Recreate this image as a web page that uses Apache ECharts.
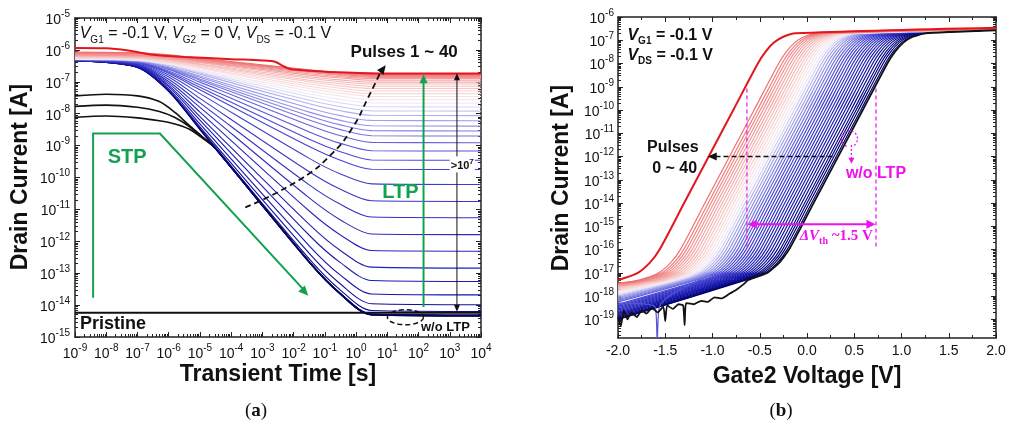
<!DOCTYPE html>
<html>
<head>
<meta charset="utf-8">
<script src="https://cdn.jsdelivr.net/npm/echarts@6/dist/echarts.min.js"></script>
<style>
html,body{margin:0;padding:0;background:#fff;}
#chart{width:1010px;height:429px;}
</style>
</head>
<body>
<div id="chart"></div>
<script>
// ---------- (a) transient drain current after pulses 1 ~ 40 ----------
// log10(time [s]) nodes shared by pulses 1..39
const decayTimes = [-9, -7, -6, -5, -1.5, -0.5, 0.5, 4];
// log10(current [A]) for pulses 1 (bottom) .. 39
const pulseDecay = [
  [-6.34,-6.55,-7.30,-8.50,-12.65,-13.65,-14.30,-14.33],
  [-6.34,-6.55,-7.30,-8.49,-12.64,-13.63,-14.28,-14.31],
  [-6.34,-6.54,-7.28,-8.46,-12.55,-13.53,-14.17,-14.20],
  [-6.34,-6.54,-7.26,-8.41,-12.38,-13.34,-13.96,-13.99],
  [-6.34,-6.53,-7.22,-8.32,-12.14,-13.06,-13.65,-13.68],
  [-6.33,-6.51,-7.16,-8.20,-11.81,-12.67,-13.23,-13.26],
  [-6.33,-6.50,-7.11,-8.09,-11.47,-12.29,-12.81,-12.84],
  [-6.33,-6.49,-7.05,-7.95,-11.05,-11.80,-12.29,-12.31],
  [-6.33,-6.47,-6.99,-7.80,-10.64,-11.33,-11.77,-11.79],
  [-6.33,-6.46,-6.92,-7.66,-10.23,-10.84,-11.24,-11.26],
  [-6.32,-6.44,-6.85,-7.52,-9.82,-10.37,-10.73,-10.75],
  [-6.32,-6.42,-6.79,-7.37,-9.40,-9.89,-10.20,-10.22],
  [-6.32,-6.41,-6.73,-7.25,-9.03,-9.46,-9.74,-9.75],
  [-6.32,-6.40,-6.70,-7.17,-8.80,-9.19,-9.45,-9.46],
  [-6.32,-6.39,-6.66,-7.09,-8.57,-8.93,-9.16,-9.17],
  [-6.30,-6.37,-6.61,-7.01,-8.36,-8.69,-8.90,-8.91],
  [-6.30,-6.36,-6.59,-6.95,-8.20,-8.50,-8.69,-8.70],
  [-6.30,-6.36,-6.57,-6.91,-8.07,-8.35,-8.53,-8.54],
  [-6.30,-6.35,-6.55,-6.86,-7.95,-8.21,-8.38,-8.39],
  [-6.30,-6.35,-6.53,-6.82,-7.82,-8.06,-8.21,-8.22],
  [-6.28,-6.33,-6.49,-6.76,-7.69,-7.91,-8.05,-8.06],
  [-6.28,-6.32,-6.48,-6.72,-7.58,-7.78,-7.91,-7.92],
  [-6.28,-6.32,-6.46,-6.69,-7.47,-7.66,-7.78,-7.79],
  [-6.28,-6.32,-6.45,-6.66,-7.38,-7.55,-7.66,-7.67],
  [-6.28,-6.31,-6.43,-6.63,-7.29,-7.45,-7.56,-7.56],
  [-6.26,-6.29,-6.40,-6.58,-7.21,-7.36,-7.46,-7.46],
  [-6.25,-6.28,-6.38,-6.55,-7.14,-7.28,-7.37,-7.37],
  [-6.24,-6.27,-6.37,-6.52,-7.07,-7.20,-7.29,-7.29],
  [-6.22,-6.25,-6.34,-6.49,-7.00,-7.13,-7.21,-7.21],
  [-6.21,-6.23,-6.32,-6.46,-6.95,-7.06,-7.14,-7.14],
  [-6.20,-6.22,-6.30,-6.44,-6.89,-7.00,-7.07,-7.07],
  [-6.18,-6.20,-6.28,-6.40,-6.84,-6.94,-7.01,-7.01],
  [-6.17,-6.19,-6.26,-6.38,-6.79,-6.88,-6.95,-6.95],
  [-6.16,-6.18,-6.25,-6.36,-6.75,-6.84,-6.90,-6.90],
  [-6.15,-6.17,-6.24,-6.34,-6.71,-6.80,-6.86,-6.86],
  [-6.13,-6.15,-6.21,-6.32,-6.68,-6.77,-6.83,-6.83],
  [-6.11,-6.13,-6.19,-6.30,-6.66,-6.74,-6.80,-6.80],
  [-6.09,-6.11,-6.17,-6.28,-6.64,-6.72,-6.78,-6.78],
  [-6.07,-6.09,-6.15,-6.26,-6.62,-6.71,-6.77,-6.77]
];
// pulse 40 (red)
const pulse40Time    = [-9, -8, -7.3, -6.5, -5.5, -4, -3, -2.6, -2.35, -2.1, -1.5, -0.3, 1, 4];
const pulse40Current = [-5.94, -5.95, -6.02, -6.15, -6.22, -6.29, -6.33, -6.37, -6.50, -6.60, -6.65, -6.71, -6.74, -6.74];
// short-term (w/o LTP) decays, black
const stpTime = [-9, -8, -7, -6.3, -5.8, -5.35, -4.9, -4.5, -1.5, -0.5, 0.5, 4];
const stpCurrent = [
  [-7.44, -7.39, -7.44, -7.62, -7.96, -8.36, -8.74, -9.09, -12.65, -13.65, -14.30, -14.33],
  [-7.77, -7.73, -7.80, -7.93, -8.12, -8.40, -8.76, -9.09, -12.65, -13.65, -14.30, -14.33],
  [-8.11, -8.07, -8.13, -8.22, -8.32, -8.48, -8.78, -9.09, -12.65, -13.65, -14.30, -14.33]
];
// pristine level
const pristineTime = [-9, 4];
const pristineCurrent = [-14.24, -14.24];

// ---------- (b) transfer curves after pulses 0 ~ 40 ----------
// gate-2 voltage where each curve crosses 1e-12 A (pulse 0 = black ... pulse 40 = red)
const vAt1pA = [0.33, 0.31, 0.285, 0.26, 0.235, 0.205, 0.175, 0.145, 0.115, 0.085, 0.055,
  0.025, -0.005, -0.035, -0.065, -0.095, -0.125, -0.155, -0.185, -0.215, -0.245,
  -0.275, -0.305, -0.335, -0.365, -0.395, -0.425, -0.455, -0.485, -0.515, -0.545,
  -0.575, -0.605, -0.635, -0.665, -0.695, -0.725, -0.755, -0.785, -0.82, -1.04];
// log10 current at Vg2 = -2.0 V
const floorAtMinus2 = [-18.9, -19.0, -19.0, -18.95, -18.95, -18.9, -18.85, -18.8, -18.8, -18.75, -18.7,
  -18.65, -18.6, -18.55, -18.5, -18.45, -18.4, -18.35, -18.3, -18.25, -18.2,
  -18.15, -18.1, -18.05, -18.0, -17.95, -17.9, -17.85, -17.8, -17.75, -17.7,
  -17.65, -17.6, -17.6, -17.55, -17.55, -17.5, -17.5, -17.45, -17.45, -17.32];
// log10 current at Vg2 = 2.0 V
const currentAt2V = [-6.57, -6.57, -6.57, -6.57, -6.57, -6.57, -6.57, -6.57, -6.57, -6.57, -6.57,
  -6.57, -6.57, -6.57, -6.56, -6.56, -6.56, -6.56, -6.56, -6.56, -6.55,
  -6.55, -6.55, -6.55, -6.55, -6.54, -6.54, -6.54, -6.54, -6.53, -6.53,
  -6.53, -6.53, -6.52, -6.52, -6.52, -6.51, -6.51, -6.50, -6.50, -6.46];
// subthreshold-to-on shape of the pristine curve: voltage offset from the 1e-12 A crossing, log10 current
const riseShift = [-0.95, -0.75, -0.62, -0.52, -0.26, 0, 0.26, 0.52, 0.6, 0.69, 0.79, 0.92];
const riseLevel = [-17.3, -17.0, -16.55, -16.0, -14.0, -12.0, -10.0, -8.0, -7.5, -7.1, -6.85, -6.7];
// noisy off-current of the pristine (pulse 0) curve
const blackFloorV = [-2.0, -1.97, -1.94, -1.9, -1.86, -1.8, -1.75, -1.7, -1.64, -1.58, -1.52, -1.5, -1.48,
  -1.42, -1.36, -1.31, -1.295, -1.28, -1.2, -1.12, -1.05, -0.98, -0.9, -0.82, -0.74, -0.66];
const blackFloorI = [-18.9, -19.3, -18.6, -19.0, -18.7, -18.9, -18.6, -18.75, -18.5, -18.7, -18.45, -19.07, -18.4,
  -18.55, -18.35, -18.4, -19.25, -18.3, -18.35, -18.2, -18.25, -18.05, -18.1, -17.9, -17.7, -17.45];
// a noise spike on pulse 18
const spikePulse = 18;
const spikeV = [-1.61, -1.585, -1.56];
const spikeI = [-18.45, -19.9, -18.45];

// axis ticks
const timeDecades = [-9, 4];
const currentDecadesA = [-15, -5];
const currentDecadesB = [-19, -6];

// ---------- styling helpers ----------
const FONT = '"Liberation Sans", Arial, sans-serif';
const SERIF = '"Liberation Serif", "DejaVu Serif", serif';
const P = e => Number('1e' + e);

const rampStops = [[0,[0,0,110]],[0.12,[25,25,175]],[0.35,[75,75,215]],[0.52,[170,170,236]],
  [0.6,[238,236,249]],[0.66,[249,224,224]],[0.82,[244,172,172]],[1,[238,112,112]]];
function ramp(f) {
  f = Math.max(0, Math.min(1, f));
  for (let i = 1; i < rampStops.length; i++) {
    if (f <= rampStops[i][0]) {
      const a = rampStops[i-1], b = rampStops[i], u = (f - a[0]) / (b[0] - a[0]);
      const c = a[1].map((v, j) => Math.round(v + (b[1][j] - v) * u));
      return 'rgb(' + c.join(',') + ')';
    }
  }
  return 'rgb(238,112,112)';
}
const RED = '#e3161e';

function powLabel(v) {
  const e = Math.log10(v), r = Math.round(e);
  if (Math.abs(e - r) > 1e-6) return '';
  return '{b|10}{s|' + r + '}';
}
const powRich = {
  b: {fontFamily: FONT, fontSize: 14, color: '#111', lineHeight: 18, verticalAlign: 'bottom'},
  s: {fontFamily: FONT, fontSize: 10, color: '#111', lineHeight: 10, verticalAlign: 'top'}
};
function decadeValues(r) { const a = []; for (let e = r[0]; e <= r[1]; e++) a.push(P(e)); return a; }
function minorValues(r) {
  const a = [];
  for (let e = r[0] - 1; e < r[1]; e++) for (let m = 2; m <= 9; m++) a.push(m * P(e));
  return a;
}

function logAxis(grid, pos, min, max, ticks, len, line, labels, margin) {
  return {
    type: 'log', logBase: 10, gridIndex: grid, position: pos, min: min, max: max,
    axisLine: {show: line, onZero: false, lineStyle: {color: '#222', width: 1.5}},
    axisTick: {show: true, inside: true, length: len, customValues: ticks, lineStyle: {color: '#222', width: 1}},
    axisLabel: labels ? {show: true, customValues: ticks, formatter: powLabel, rich: powRich, margin: margin} : {show: false},
    splitLine: {show: false}, minorTick: {show: false}, axisPointer: {show: false}
  };
}
function voltAxis(pos, labels) {
  return {
    type: 'value', gridIndex: 1, position: pos, min: -2, max: 2, interval: 0.5,
    axisLine: {show: true, onZero: false, lineStyle: {color: '#222', width: 1.5}},
    axisTick: {show: true, inside: true, length: 5, lineStyle: {color: '#222', width: 1}},
    minorTick: {show: true, splitNumber: 2, length: 3, lineStyle: {color: '#222', width: 1}},
    axisLabel: labels ? {show: true, margin: 6, fontFamily: FONT, fontSize: 14, color: '#111',
      formatter: v => v.toFixed(1)} : {show: false},
    splitLine: {show: false}, axisPointer: {show: false}
  };
}

const tMin = P(timeDecades[0]), tMax = P(timeDecades[1]);
const aMin = P(currentDecadesA[0]), aMax = P(currentDecadesA[1]);
const bMin = Math.pow(10, -19.8), bMax = P(currentDecadesB[1]);

const xAxes = [
  logAxis(0, 'bottom', tMin, tMax, decadeValues(timeDecades), 5, true, true, 6),
  logAxis(0, 'bottom', tMin, tMax, minorValues(timeDecades), 3, false, false),
  logAxis(0, 'top', tMin, tMax, decadeValues(timeDecades), 5, true, false),
  logAxis(0, 'top', tMin, tMax, minorValues(timeDecades), 3, false, false),
  voltAxis('bottom', true),
  voltAxis('top', false)
];
const yAxes = [
  logAxis(0, 'left', aMin, aMax, decadeValues(currentDecadesA), 5, true, true, 5),
  logAxis(0, 'left', aMin, aMax, minorValues(currentDecadesA), 3, false, false),
  logAxis(0, 'right', aMin, aMax, decadeValues(currentDecadesA), 5, true, false),
  logAxis(0, 'right', aMin, aMax, minorValues(currentDecadesA), 3, false, false),
  logAxis(1, 'left', bMin, bMax, decadeValues(currentDecadesB), 5, true, true, 4),
  logAxis(1, 'left', bMin, bMax, minorValues(currentDecadesB).filter(v => v > bMin), 3, false, false),
  logAxis(1, 'right', bMin, bMax, decadeValues(currentDecadesB), 5, true, false),
  logAxis(1, 'right', bMin, bMax, minorValues(currentDecadesB).filter(v => v > bMin), 3, false, false)
];

function line(data, color, width, axis, z, smooth) {
  return {
    type: 'line', data: data, xAxisIndex: axis, yAxisIndex: axis, symbol: 'none', silent: true,
    smooth: smooth === undefined ? 0.3 : smooth, z: z || 2,
    lineStyle: {color: color, width: width}, emphasis: {disabled: true}
  };
}
const toA = (ts, is) => ts.map((t, j) => [Math.pow(10, t), Math.pow(10, is[j])]);

const series = [];
// (a)
series.push(line(toA(pristineTime, pristineCurrent), '#111', 1.8, 0));
stpCurrent.forEach(row => series.push(line(toA(stpTime, row), '#111', 1.6, 0)));
pulseDecay.forEach((row, k) => series.push(line(toA(decayTimes, row), ramp(k / 38), 1.1, 0)));
series.push(line(toA(pulse40Time, pulse40Current), RED, 2, 0, 3));

// (b)
function transferCurve(k) {
  const pts = [];
  if (k === 0) blackFloorV.forEach((v, i) => pts.push([v, Math.pow(10, blackFloorI[i])]));
  else pts.push([-2, Math.pow(10, floorAtMinus2[k])]);
  if (k === spikePulse) spikeV.forEach((v, i) => pts.push([v, Math.pow(10, spikeI[i])]));
  riseShift.forEach((d, j) => {
    const v = vAt1pA[k] + d;
    if (v > -2 && v < 2) pts.push([v, Math.pow(10, riseLevel[j])]);
  });
  pts.push([2, Math.pow(10, currentAt2V[k])]);
  return pts;
}
for (let k = 1; k < 40; k++) {
  series.push(line(transferCurve(k), ramp(Math.pow((k - 1) / 38, 1.25)), 1.2, 4));
}
series.push(line(transferCurve(0), '#111', 1.8, 4, 3, 0.15));
series.push(line(transferCurve(40), RED, 2, 4, 3));

const chart = echarts.init(document.getElementById('chart'), null, {renderer: 'canvas'});
chart.setOption({
  animation: false,
  backgroundColor: '#fff',
  grid: [
    {left: 75, top: 18, width: 406, height: 319, containLabel: false},
    {left: 618, top: 17, width: 378, height: 321, containLabel: false}
  ],
  xAxis: xAxes,
  yAxis: yAxes,
  series: series
});

// ---------- annotations ----------
const A = (t, i) => chart.convertToPixel({xAxisIndex: 0, yAxisIndex: 0}, [Math.pow(10, t), Math.pow(10, i)]);
const B = (v, i) => chart.convertToPixel({xAxisIndex: 4, yAxisIndex: 4}, [v, Math.pow(10, i)]);

const GREEN = '#12a150';
const MAG = '#ee10ee';
const g = [];
function text(p, str, style, extra) {
  g.push(Object.assign({type: 'text', x: p[0], y: p[1], z: 100,
    style: Object.assign({text: str, fill: '#111', align: 'left', verticalAlign: 'middle', fontFamily: FONT}, style)}, extra || {}));
}
function poly(pts, color, width, dash, smooth) {
  g.push({type: 'polyline', z: 100, shape: {points: pts, smooth: smooth || 0},
    style: {stroke: color, lineWidth: width, lineDash: dash || null, fill: null}});
}
function head(tip, from, color, len, wid) {
  const dx = tip[0] - from[0], dy = tip[1] - from[1], d = Math.hypot(dx, dy) || 1;
  const ux = dx / d, uy = dy / d, bx = tip[0] - ux * len, by = tip[1] - uy * len;
  g.push({type: 'polygon', z: 101, shape: {points: [tip, [bx - uy * wid, by + ux * wid], [bx + uy * wid, by - ux * wid]]},
    style: {fill: color}});
}

// panel (a)
const subRich = (w) => ({
  i: {fontFamily: FONT, fontSize: 16, fontStyle: 'italic', fontWeight: w, lineHeight: 22, verticalAlign: 'middle', fill: '#111'},
  s: {fontFamily: FONT, fontSize: 10, fontWeight: w, lineHeight: 10, verticalAlign: 'bottom', fill: '#111'},
  n: {fontFamily: FONT, fontSize: 16, fontWeight: w, lineHeight: 22, verticalAlign: 'middle', fill: '#111'}
});
text(A(-8.85, -5.5), '{i|V}{s|G1}{n| = -0.1 V, }{i|V}{s|G2}{n| = 0 V, }{i|V}{s|DS}{n| = -0.1 V}', {rich: subRich('normal')});
text(A(1.54, -6.08), 'Pulses 1 ~ 40', {fontSize: 17, fontWeight: 'bold', align: 'center'});

const dashPath = [[-3.55, -10.94], [-1.79, -10.06], [-0.73, -9.21], [-0.09, -8.40], [0.36, -7.55], [0.78, -6.70]].map(p => A(p[0], p[1]));
poly(dashPath, '#111', 1.8, [6, 4], 0.5);
head(A(0.95, -6.48), dashPath[dashPath.length - 1], '#111', 9, 4);

const stpPath = [A(-8.42, -13.77), A(-8.42, -8.62), A(-6.28, -8.62), A(-1.6, -13.6)];
poly(stpPath, GREEN, 2);
head(A(-1.53, -13.71), stpPath[2], GREEN, 10, 4.5);
text(A(-7.33, -9.37), 'STP', {fontSize: 20, fontWeight: 'bold', fill: GREEN, align: 'center'});

const ltpTop = A(2.16, -6.76), ltpBot = A(2.16, -14.06);
poly([ltpBot, [ltpTop[0], ltpTop[1] + 8]], GREEN, 2);
head(ltpTop, ltpBot, GREEN, 9, 4);
text(A(1.42, -10.47), 'LTP', {fontSize: 20, fontWeight: 'bold', fill: GREEN, align: 'center'});

const dTop = A(3.23, -6.73), dBot = A(3.23, -14.21);
poly([[dTop[0], dTop[1] + 6], [dBot[0], dBot[1] - 6]], '#111', 1);
head(dTop, dBot, '#111', 7, 3);
head(dBot, dTop, '#111', 7, 3);
text(A(3.4, -9.59), '{b|>10}{s|7}', {align: 'center', backgroundColor: '#fff', padding: [1, 1],
  rich: {b: {fontFamily: FONT, fontSize: 11, fontWeight: 'bold', lineHeight: 14, verticalAlign: 'bottom', fill: '#111'},
         s: {fontFamily: FONT, fontSize: 8, fontWeight: 'bold', lineHeight: 8, verticalAlign: 'top', fill: '#111'}}});

text(A(-8.84, -14.58), 'Pristine', {fontSize: 18, fontWeight: 'bold'});
const ec = A(1.58, -14.38), ell = [];
for (let i = 0; i <= 48; i++) { const a = i / 48 * Math.PI * 2; ell.push([ec[0] + 18 * Math.cos(a), ec[1] + 7.5 * Math.sin(a)]); }
poly(ell, '#111', 1.5, [5, 3]);
text(A(2.86, -14.69), 'w/o LTP', {fontSize: 13, fontWeight: 'bold', align: 'center'});

// panel (b)
text(B(-1.90, -6.79), '{i|V}{s|G1}{n| = -0.1 V}', {rich: subRich('bold')});
text(B(-1.90, -7.65), '{i|V}{s|DS}{n| = -0.1 V}', {rich: subRich('bold')});
text(B(-1.42, -11.62), 'Pulses', {fontSize: 16, fontWeight: 'bold', align: 'center'});
text(B(-1.40, -12.52), '0 ~ 40', {fontSize: 16, fontWeight: 'bold', align: 'center'});
const pa0 = B(0.27, -12.0), pa1 = B(-1.05, -12.0);
poly([pa0, [pa1[0] + 8, pa1[1]]], '#111', 1.5, [5, 3]);
head(pa1, pa0, '#111', 9, 4);

const cc = B(0.45, -11.24);
g.push({type: 'arc', z: 100, shape: {cx: cc[0], cy: cc[1], r: 8, startAngle: Math.PI * 0.62, endAngle: Math.PI * 2.38},
  style: {stroke: MAG, lineWidth: 1.3, lineDash: [2, 2], fill: null}});
const da0 = B(0.47, -11.5), da1 = B(0.47, -12.31);
poly([da0, [da1[0], da1[1] - 5]], MAG, 1.3, [2, 2]);
head(da1, da0, MAG, 6, 3);
text(B(0.73, -12.72), 'w/o LTP', {fontSize: 16, fontWeight: 'bold', fill: MAG, align: 'center'});

[[-0.636, -9.07, -15.88], [0.73, -9.07, -15.97]].forEach(r => {
  poly([B(r[0], r[1]), B(r[0], r[2])], MAG, 1.2, [4, 3]);
});
const m0 = B(-0.626, -14.91), m1 = B(0.724, -14.91);
poly([[m0[0] + 6, m0[1]], [m1[0] - 6, m1[1]]], MAG, 2);
head(m0, m1, MAG, 9, 4.5);
head(m1, m0, MAG, 9, 4.5);
text(B(0.31, -15.44), '{d|\u0394V}{s|th}{n| ~1.5 V}', {align: 'center',
  rich: {d: {fontFamily: SERIF, fontSize: 15, fontStyle: 'italic', fontWeight: 'bold', lineHeight: 20, verticalAlign: 'middle', fill: MAG},
         s: {fontFamily: SERIF, fontSize: 10, fontWeight: 'bold', lineHeight: 10, verticalAlign: 'bottom', fill: MAG},
         n: {fontFamily: SERIF, fontSize: 15, fontWeight: 'bold', lineHeight: 20, verticalAlign: 'middle', fill: MAG}}});

// axis titles and panel tags
const title = {fontSize: 23, fontWeight: 'bold', align: 'center'};
text([21, 177], 'Drain Current [A]', title, {rotation: Math.PI / 2});
text([278, 375], 'Transient Time [s]', title);
text([562, 178], 'Drain Current [A]', title, {rotation: Math.PI / 2});
text([807, 377], 'Gate2 Voltage [V]', title);
const tagRich = {p: {fontFamily: SERIF, fontSize: 19, fill: '#111'}, a: {fontFamily: SERIF, fontSize: 19, fontWeight: 'bold', fill: '#111'}};
text([256, 411], '{p|(}{a|a}{p|)}', {align: 'center', rich: tagRich});
text([781, 411], '{p|(}{a|b}{p|)}', {align: 'center', rich: tagRich});

chart.setOption({graphic: {elements: g}});
</script>
</body>
</html>
